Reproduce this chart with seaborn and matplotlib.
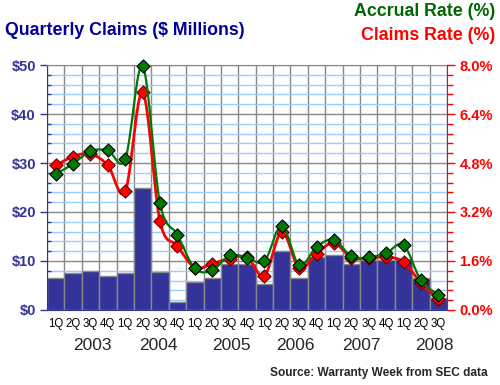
import numpy as np
import pandas as pd
import matplotlib
matplotlib.use("Agg")
import matplotlib.pyplot as plt
import seaborn as sns

# данні з графіка
quarters = ["1Q", "2Q", "3Q", "4Q"] * 5 + ["1Q", "2Q", "3Q"]
years = ["2003", "2004", "2005", "2006", "2007", "2008"]
claims = [6.5, 7.5, 7.9, 6.9, 7.5, 24.8, 7.7, 1.6, 5.7, 6.5, 9.3, 9.3,
          5.2, 12.0, 6.5, 10.8, 11.2, 9.3, 10.2, 10.1, 10.3, 6.5, 2.4]
claims_rate = [4.72, 5.01, 5.10, 4.72, 3.87, 7.11, 2.89, 2.09, 1.38, 1.51, 1.68, 1.72,
               1.12, 2.55, 1.37, 1.84, 2.19, 1.70, 1.70, 1.73, 1.57, 0.88, 0.35]
accrual_rate = [4.44, 4.77, 5.19, 5.21, 4.93, 7.97, 3.48, 2.45, 1.36, 1.29, 1.78, 1.71,
                1.59, 2.75, 1.46, 2.06, 2.29, 1.75, 1.72, 1.86, 2.12, 0.97, 0.49]

NAVY = "#333399"
RED = "#FF0000"
GREEN = "#007700"


def smooth(y, n=20):
    # Catmull-Rom крива через точки
    y = np.asarray(y, float)
    x = np.arange(len(y), dtype=float)
    p = np.concatenate([[2 * y[0] - y[1]], y, [2 * y[-1] - y[-2]]])
    xs, ys = [], []
    for i in range(len(y) - 1):
        t = np.linspace(0, 1, n, endpoint=False)
        p0, p1, p2, p3 = p[i], p[i + 1], p[i + 2], p[i + 3]
        v = 0.5 * (2 * p1 + (-p0 + p2) * t + (2 * p0 - 5 * p1 + 4 * p2 - p3) * t ** 2
                   + (-p0 + 3 * p1 - 3 * p2 + p3) * t ** 3)
        xs.append(x[i] + t)
        ys.append(v)
    xs.append([x[-1]])
    ys.append([y[-1]])
    return np.concatenate(xs), np.concatenate(ys)


idx = np.arange(len(claims))
df = pd.DataFrame({"idx": idx, "claims": claims, "claims_rate": claims_rate,
                   "accrual_rate": accrual_rate})

sns.set_style("white")
plt.rcParams["font.family"] = ["Liberation Sans", "DejaVu Sans"]

fig = plt.figure(figsize=(5, 3.85), dpi=100)
ax = fig.add_axes([0.094, 0.195, 0.8, 0.636])

sns.barplot(data=df, x="idx", y="claims", native_scale=True, width=1.0, color=NAVY,
            saturation=1, edgecolor="#888888", linewidth=1, ax=ax, zorder=2)
ax.set_xlim(-0.5, len(claims) - 0.5)
ax.set_ylim(0, 50)
ax.set_axisbelow(True)

ax.set_yticks(np.arange(0, 51, 10))
ax.set_yticklabels([f"${v}" for v in range(0, 51, 10)], color=NAVY,
                   fontsize=10.5, fontweight="bold")
ax.set_yticks(np.arange(0, 51, 2), minor=True)
ax.set_xticks(np.arange(-0.5, len(claims)))
ax.set_xticklabels([])
ax.set_xticks(idx, minor=True)
ax.set_xticklabels(quarters, minor=True, fontsize=8.3, color="black")
ax.tick_params(axis="x", which="major", length=5, color="black", width=1)
ax.tick_params(axis="x", which="minor", length=0, pad=6)
ax.tick_params(axis="y", which="major", length=5, color=NAVY, width=1, pad=3)
ax.tick_params(axis="y", which="minor", length=3, direction="in", color=NAVY, width=1)
ax.grid(which="major", axis="both", color="#888888", linewidth=1)
ax.grid(which="minor", axis="y", color="#99CCFF", linewidth=1)
ax.set_xlabel("")
ax.set_ylabel("")
for s in ["left", "bottom"]:
    ax.spines[s].set_color(NAVY)
ax.spines["top"].set_color("#888888")
ax.spines["right"].set_visible(False)

year_pos = [2.1, 5.9, 10.1, 13.8, 17.6, 21.75]
for yr, xp in zip(years, year_pos):
    ax.text(xp, -0.145, yr, transform=ax.get_xaxis_transform(), ha="center",
            va="center", fontsize=12.5)

ax2 = ax.twinx()
ax2.set_ylim(0, 8)
rticks = np.arange(0, 8.01, 1.6)
ax2.set_yticks(rticks)
ax2.set_yticklabels([f"{v:.1f}%" for v in rticks], color=RED, fontsize=10.5,
                    fontweight="bold")
ax2.set_yticks(np.arange(0, 8.01, 0.32), minor=True)
ax2.tick_params(axis="y", which="major", length=6, color=RED, width=1, pad=3)
ax2.tick_params(axis="y", which="minor", length=4, color=RED, width=1)
ax2.spines["right"].set_color(RED)
for s in ["left", "top", "bottom"]:
    ax2.spines[s].set_visible(False)

xs, ys = smooth(claims_rate)
sns.lineplot(x=xs, y=ys, color=RED, linewidth=2, ax=ax2, zorder=3)
sns.scatterplot(data=df, x="idx", y="claims_rate", marker="D", s=45, color=RED,
                edgecolor="#660000", linewidth=0.8, ax=ax2, zorder=4, clip_on=False)
xs, ys = smooth(accrual_rate)
sns.lineplot(x=xs, y=ys, color=GREEN, linewidth=1.6, ax=ax2, zorder=5)
sns.scatterplot(data=df, x="idx", y="accrual_rate", marker="D", s=45, color=GREEN,
                edgecolor="black", linewidth=0.8, ax=ax2, zorder=6, clip_on=False)
ax2.set_xlabel("")
ax2.set_ylabel("")

fig.text(0.01, 0.922, "Quarterly Claims ($ Millions)", color="#000099", fontsize=12.8,
         fontweight="bold", va="center", ha="left")
fig.text(0.99, 0.971, "Accrual Rate (%)", color="#006600", fontsize=12.8,
         fontweight="bold", va="center", ha="right")
fig.text(0.99, 0.909, "Claims Rate (%)", color=RED, fontsize=12.8,
         fontweight="bold", va="center", ha="right")
fig.text(0.975, 0.031, "Source: Warranty Week from SEC data", fontsize=8.6,
         fontweight="bold", va="center", ha="right")

fig.savefig("out.png", dpi=100)
